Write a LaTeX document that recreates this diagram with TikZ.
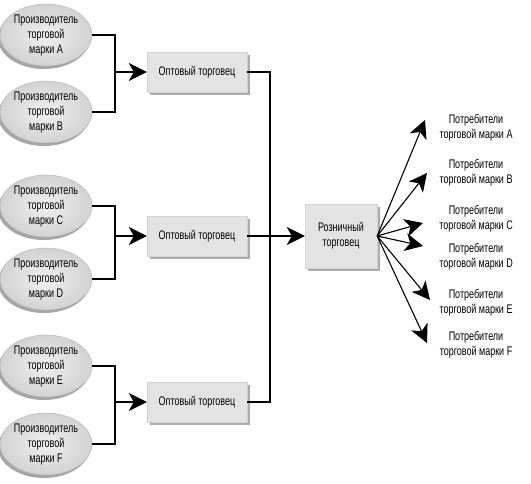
\documentclass[tikz,border=0pt]{standalone}
\usepackage{fontspec}
\setmainfont{Liberation Sans}[FakeStretch=0.72]
\usetikzlibrary{shadows,arrows.meta,shapes.geometric}
\begin{document}
\begin{tikzpicture}[x=1pt,y=-1pt,
  txt/.style={font=\fontsize{12.5}{15}\selectfont, align=center},
  prod/.style={txt, ellipse, draw=gray!60, line width=0.4pt,
     inner color=gray!12, outer color=gray!35,
     minimum width=92pt, minimum height=62pt, inner sep=0pt,
     drop shadow={shadow xshift=-2pt, shadow yshift=-3pt, fill=gray!70, opacity=1}},
  whole/.style={txt, rectangle, fill=gray!22, draw=gray!35, line width=0.4pt,
     minimum width=100pt, minimum height=40pt, inner sep=0pt,
     drop shadow={shadow xshift=3pt, shadow yshift=-3pt, fill=gray!65, opacity=1}},
  cons/.style={txt},
  ln/.style={line width=1.1pt},
  arr/.style={line width=1.1pt, -{Stealth[length=18pt,width=18pt,inset=5pt]}}
]
\useasboundingbox (0,0) rectangle (531,484);
% producers
\node[prod] (pA) at (46,35) {Производитель\\торговой\\марки A};
\node[prod] (pB) at (46,112) {Производитель\\торговой\\марки B};
\node[prod] (pC) at (46,206) {Производитель\\торговой\\марки C};
\node[prod] (pD) at (46,279) {Производитель\\торговой\\марки D};
\node[prod] (pE) at (46,366) {Производитель\\торговой\\марки E};
\node[prod] (pF) at (46,444) {Производитель\\торговой\\марки F};
% wholesalers
\node[whole] (w1) at (197,72) {Оптовый торговец};
\node[whole] (w2) at (197,236) {Оптовый торговец};
\node[whole] (w3) at (197,402) {Оптовый торговец};
% retailer
\node[whole, minimum width=72pt, minimum height=64pt] (r) at (341,236) {Розничный\\торговец};
% consumers
\node[cons] (cA) at (476,128) {Потребители\\торговой марки A};
\node[cons] (cB) at (476,173) {Потребители\\торговой марки B};
\node[cons] (cC) at (476,219) {Потребители\\торговой марки C};
\node[cons] (cD) at (476,257) {Потребители\\торговой марки D};
\node[cons] (cE) at (476,303) {Потребители\\торговой марки E};
\node[cons] (cF) at (476,345) {Потребители\\торговой марки F};
% junctions
\coordinate (j1) at (115,72);
\coordinate (j2) at (115,236);
\coordinate (j3) at (115,402);
\coordinate (k) at (270,236);
\draw[ln] (pA.east) -| (j1) |- (pB.east);
\draw[ln] (pC.east) -| (j2) |- (pD.east);
\draw[ln] (pE.east) -| (j3) |- (pF.east);
\draw[arr] (j1) -- (w1.west);
\draw[arr] (j2) -- (w2.west);
\draw[arr] (j3) -- (w3.west);
\draw[ln] (w1.east) -| (k) |- (w3.east);
\draw[ln] (w2.east) -- (k);
\draw[arr] (k) -- (r.west);
% consumer arrows
\coordinate (o) at (r.east);
\coordinate (tA) at (425,120);
\coordinate (tB) at (427,173);
\coordinate (tC) at (423,223);
\coordinate (tD) at (423,246);
\coordinate (tE) at (430,300);
\coordinate (tF) at (427,343);
\foreach \t in {tA,tB,tC,tD,tE,tF} \draw[arr] (o) -- (\t);
\end{tikzpicture}
\end{document}
